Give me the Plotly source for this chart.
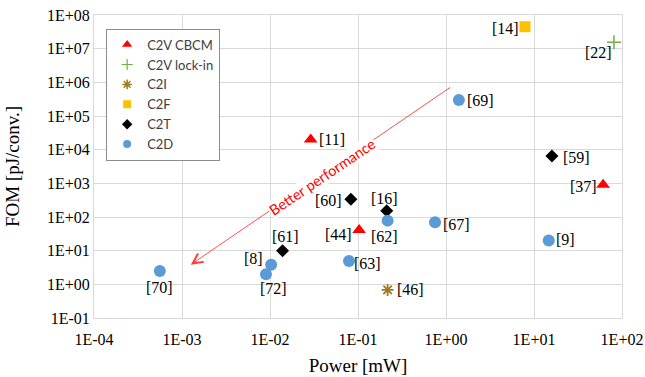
import math
import plotly.graph_objects as go

# ---------------- data ----------------
cbcm_x = [0.029, 0.103, 61]
cbcm_y = [2.0e4, 41, 900]
cbcm_lab = ["[11]", "[44]", "[37]"]

lock_x = [81]
lock_y = [1.55e7]
lock_lab = ["[22]"]

c2i_x = [0.217]
c2i_y = [0.68]
c2i_lab = ["[46]"]

c2f_x = [7.9]
c2f_y = [4.5e7]
c2f_lab = ["[14]"]

c2t_x = [0.083, 0.212, 0.0139, 16]
c2t_y = [335, 154, 10, 6500]
c2t_lab = ["[60]", "[16]", "[61]", "[59]"]

c2d_x = [5.6e-4, 0.0103, 0.009, 0.079, 0.217, 0.75, 1.4, 14.7]
c2d_y = [2.5, 3.8, 2.0, 4.9, 78, 70, 3.0e5, 20]
c2d_lab = ["[70]", "[8]", "[72]", "[63]", "[62]", "[67]", "[69]", "[9]"]

x_tickvals = [1e-4, 1e-3, 1e-2, 1e-1, 1e0, 1e1, 1e2]
x_ticktext = ["1E-04", "1E-03", "1E-02", "1E-01", "1E+00", "1E+01", "1E+02"]
y_tickvals = [1e-1, 1e0, 1e1, 1e2, 1e3, 1e4, 1e5, 1e6, 1e7, 1e8]
y_ticktext = ["1E-01", "1E+00", "1E+01", "1E+02", "1E+03", "1E+04",
              "1E+05", "1E+06", "1E+07", "1E+08"]

# arrow (log10 coordinates): tail -> tip
arrow_tail = (0.065, 5.88)
arrow_tip = (-2.90, 0.585)
arrow_text = "Better performance"
arrow_text_pos = (-1.40, 3.20)

# ---------------- label placement (anchor, xshift, yshift) ----------------
LABEL_POS = {
    "[11]": ("left", 6, 0),
    "[44]": ("right", -5, -4),
    "[37]": ("right", -4, -2),
    "[22]": ("right", 0, -10),
    "[46]": ("left", 7, 0),
    "[14]": ("right", -4, -2),
    "[60]": ("right", -7, -1),
    "[16]": ("center", -2, 12),
    "[61]": ("center", 3, 14),
    "[59]": ("left", 9, -2),
    "[70]": ("center", 0, -17),
    "[8]": ("center", -18, 6),
    "[72]": ("center", 8, -14),
    "[63]": ("left", 3, -2),
    "[62]": ("center", -3, -16),
    "[67]": ("left", 6, -2),
    "[69]": ("left", 6, -1),
    "[9]": ("left", 5, 1),
}

RED, GREEN, BROWN, ORANGE, BLACK, BLUE = (
    "#FF0000", "#70AD47", "#A07A20", "#FFC000", "#000000", "#5B9BD5")

series = [
    ("C2V CBCM", cbcm_x, cbcm_y, cbcm_lab,
     dict(symbol="triangle-up", color=RED, size=12),
     dict(symbol="triangle-up", color=RED, size=9)),
    ("C2V lock-in", lock_x, lock_y, lock_lab,
     dict(symbol="cross-thin", color=GREEN, size=10,
          line=dict(color=GREEN, width=1.5)),
     dict(symbol="cross-thin", color=GREEN, size=8,
          line=dict(color=GREEN, width=1.2))),
    ("C2I", c2i_x, c2i_y, c2i_lab,
     dict(symbol="asterisk", color=BROWN, size=10,
          line=dict(color=BROWN, width=1.8)),
     dict(symbol="asterisk", color=BROWN, size=8,
          line=dict(color=BROWN, width=1.5))),
    ("C2F", c2f_x, c2f_y, c2f_lab,
     dict(symbol="square", color=ORANGE, size=11),
     dict(symbol="square", color=ORANGE, size=8)),
    ("C2T", c2t_x, c2t_y, c2t_lab,
     dict(symbol="diamond", color=BLACK, size=10),
     dict(symbol="diamond", color=BLACK, size=8)),
    ("C2D", c2d_x, c2d_y, c2d_lab,
     dict(symbol="circle", color=BLUE, size=12),
     dict(symbol="circle", color=BLUE, size=8)),
]

fig = go.Figure()
annotations = []

# arrow first so the white text box covers it
annotations.append(dict(
    x=arrow_tip[0], y=arrow_tip[1], ax=arrow_tail[0], ay=arrow_tail[1],
    xref="x", yref="y", axref="x", ayref="y", text="", showarrow=True,
    arrowhead=5, arrowsize=2.2, arrowwidth=0.9, arrowcolor="#FF3B3B"))
annotations.append(dict(
    x=arrow_text_pos[0], y=arrow_text_pos[1], xref="x", yref="y",
    text=arrow_text, showarrow=False, textangle=-34, bgcolor="white",
    borderpad=0,
    font=dict(family="Lato", size=14.5, color="#FF0000")))

for name, xs, ys, labs, mk, legmk in series:
    fig.add_trace(go.Scatter(x=xs, y=ys, mode="markers", name=name,
                             marker=mk, showlegend=False,
                             legendgroup=name))
    # legend entry with smaller symbol, as in the reference
    fig.add_trace(go.Scatter(x=[None], y=[None], mode="markers", name=name,
                             marker=legmk, showlegend=True,
                             legendgroup=name))
    for x, y, lab in zip(xs, ys, labs):
        anc, dx, dy = LABEL_POS[lab]
        annotations.append(dict(
            x=math.log10(x), y=math.log10(y), xref="x", yref="y",
            text=lab, showarrow=False, xanchor=anc, yanchor="middle",
            xshift=dx, yshift=dy,
            font=dict(family="Liberation Serif", size=16, color="#000000")))

axis_common = dict(
    type="log", showgrid=True, gridcolor="#D9D9D9", gridwidth=1,
    showline=True, linecolor="#D9D9D9", linewidth=1, mirror=True,
    ticks="", zeroline=False, automargin=False,
    tickfont=dict(family="Liberation Serif", size=16, color="#000000"),
)

fig.update_layout(
    width=645, height=377,
    margin=dict(l=94, r=23, t=15, b=59),
    paper_bgcolor="white", plot_bgcolor="white",
    xaxis=dict(axis_common, range=[-4, 2], tickvals=x_tickvals,
               ticktext=x_ticktext, ticklabelstandoff=7,
               title=dict(text="Power [mW]", standoff=11,
                          font=dict(family="Liberation Serif", size=19,
                                    color="#000000"))),
    yaxis=dict(axis_common, range=[-1, 8], tickvals=y_tickvals,
               ticktext=y_ticktext,
               title=dict(text="FOM [pJ/conv.]", standoff=22,
                          font=dict(family="Liberation Serif", size=19,
                                    color="#000000"))),
    legend=dict(x=0.023, y=0.955, xanchor="left", yanchor="top",
                bgcolor="white", bordercolor="#8C8C8C", borderwidth=1,
                font=dict(family="Lato", size=13, color="#404040"),
                itemwidth=30, tracegroupgap=0),
    annotations=annotations,
    showlegend=True,
)

fig.write_html("out.html")
